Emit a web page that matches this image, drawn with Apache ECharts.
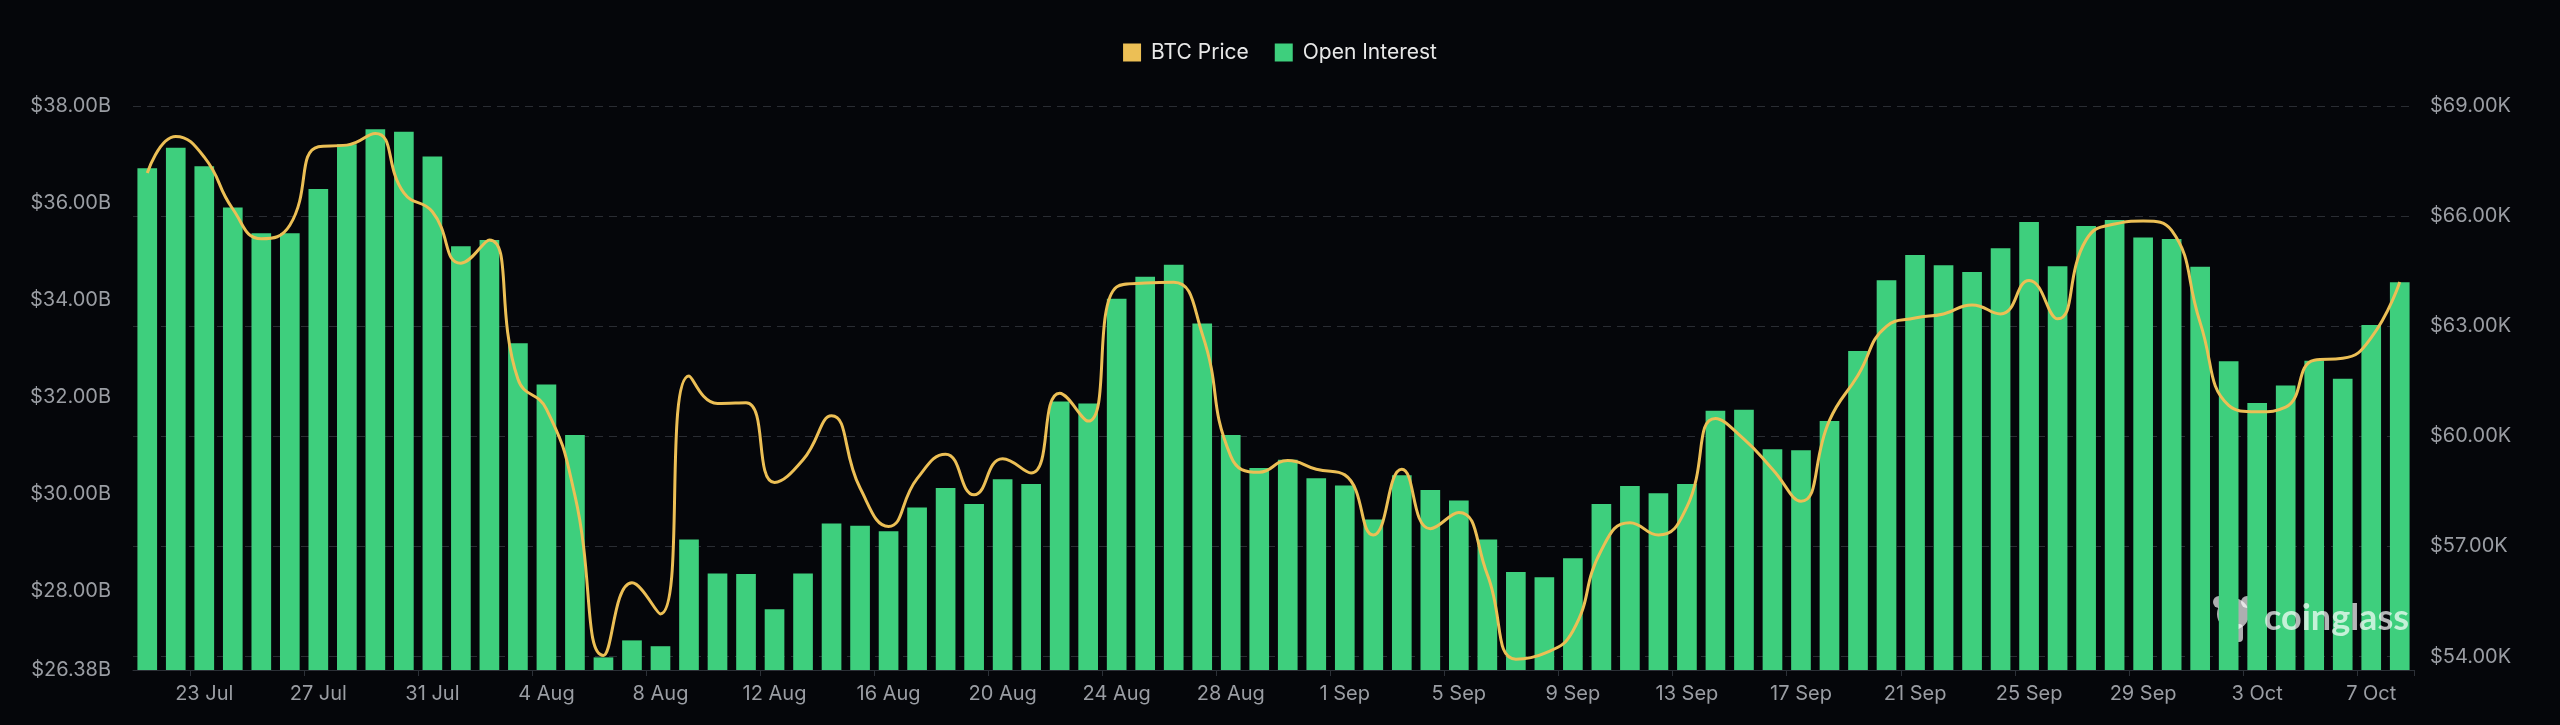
<!DOCTYPE html>
<html>
<head>
<meta charset="utf-8">
<script src="https://cdn.jsdelivr.net/npm/echarts@6/dist/echarts.min.js"></script>
<style>
html,body{margin:0;padding:0;background:#05060a;}
#chart{width:2560px;height:725px;}
</style>
</head>
<body>
<div id="chart"></div>
<script>
const categories = [
  '21 Jul','22 Jul','23 Jul','24 Jul','25 Jul','26 Jul','27 Jul','28 Jul','29 Jul','30 Jul','31 Jul',
  '1 Aug','2 Aug','3 Aug','4 Aug','5 Aug','6 Aug','7 Aug','8 Aug','9 Aug','10 Aug','11 Aug','12 Aug','13 Aug','14 Aug','15 Aug','16 Aug','17 Aug','18 Aug','19 Aug','20 Aug','21 Aug','22 Aug','23 Aug','24 Aug','25 Aug','26 Aug','27 Aug','28 Aug','29 Aug','30 Aug','31 Aug',
  '1 Sep','2 Sep','3 Sep','4 Sep','5 Sep','6 Sep','7 Sep','8 Sep','9 Sep','10 Sep','11 Sep','12 Sep','13 Sep','14 Sep','15 Sep','16 Sep','17 Sep','18 Sep','19 Sep','20 Sep','21 Sep','22 Sep','23 Sep','24 Sep','25 Sep','26 Sep','27 Sep','28 Sep','29 Sep','30 Sep',
  '1 Oct','2 Oct','3 Oct','4 Oct','5 Oct','6 Oct','7 Oct','8 Oct'
];
// Open Interest, billions USD
const openInterest = [
  36.72,37.14,36.76,35.91,35.38,35.38,36.29,37.21,37.52,37.47,36.96,
  35.11,35.24,33.11,32.26,31.22,26.64,26.99,26.87,29.07,28.37,28.36,27.63,
  28.37,29.40,29.35,29.24,29.73,30.13,29.80,30.31,30.21,31.91,31.87,
  34.03,34.48,34.73,33.52,31.22,30.54,30.71,30.33,30.18,29.48,30.39,
  30.09,29.87,29.07,28.40,28.29,28.68,29.80,30.17,30.02,30.21,31.72,31.74,
  30.93,30.91,31.51,32.95,34.41,34.93,34.72,34.58,35.07,35.61,34.70,
  35.53,35.65,35.29,35.26,34.69,32.74,31.88,32.24,32.75,32.38,33.49,34.37
];
// BTC Price, USD
const btcPrice = [
  67176,68170,67607,66193,65383,65750,67890,67934,68252,66630,66120,
  64717,65352,61560,60742,58385,54030,56008,55158,61643,60895,60915,58744,
  59359,60557,58590,57545,58846,59512,58406,59389,59000,61172,60414,
  64072,64174,64195,62791,59461,59020,59338,59102,58949,57310,59102,
  57483,57925,56233,53928,54082,54697,56899,57647,57310,58078,60486,59922,
  59102,58231,60434,61664,62996,63221,63334,63580,63334,64246,63201,
  65352,65783,65865,65609,63098,60844,60670,60793,62074,62125,62688,64205
];
const oiAxis = { min: 26.38, max: 38 };
const priceAxis = { min: 53632, max: 69000 };

const chart = echarts.init(document.getElementById('chart'), null, { renderer: 'canvas' });
const labelColor = '#9a9da3';
const fontFamily = 'Inter, "Noto Sans", sans-serif';
const showEvery = (i) => i % 4 === 2;

chart.setOption({
  backgroundColor: '#05060a',
  animation: false,
  legend: {
    data: ['BTC Price', 'Open Interest'],
    top: 37,
    left: 'center',
    icon: 'rect',
    itemWidth: 18,
    itemHeight: 18,
    itemGap: 26,
    textStyle: { color: '#e8e8e8', fontSize: 21, fontFamily: fontFamily, padding: [0, 0, 0, 5] }
  },
  grid: { left: 133, right: 146, top: 106, bottom: 55 },
  xAxis: {
    type: 'category',
    data: categories,
    boundaryGap: true,
    axisLine: { lineStyle: { color: '#2c3037', width: 1 } },
    axisTick: { show: true, interval: (i) => showEvery(i), length: 6, lineStyle: { color: '#2c3037' } },
    axisLabel: { interval: (i) => showEvery(i), color: labelColor, fontSize: 20, fontFamily: fontFamily, margin: 14 },
    splitLine: { show: false }
  },
  yAxis: [
    {
      type: 'value',
      position: 'left',
      min: oiAxis.min,
      max: oiAxis.max,
      axisLine: { show: false },
      axisTick: { show: false },
      splitLine: { show: false },
      axisLabel: {
        color: labelColor, fontSize: 20, fontFamily: fontFamily, margin: 22,
        formatter: (v) => '$' + v.toFixed(2) + 'B'
      }
    },
    {
      type: 'value',
      position: 'right',
      min: priceAxis.min,
      max: priceAxis.max,
      axisLine: { show: false },
      axisTick: { show: false },
      splitLine: { show: true, lineStyle: { color: '#2a2d33', type: [8, 6], width: 1 } },
      axisLabel: {
        color: labelColor, fontSize: 20, fontFamily: fontFamily, margin: 16,
        showMinLabel: false,
        formatter: (v) => '$' + (v / 1000).toFixed(2) + 'K'
      }
    }
  ],
  series: [
    {
      name: 'Open Interest',
      type: 'bar',
      yAxisIndex: 0,
      data: openInterest,
      barWidth: '69%',
      itemStyle: { color: '#3ecf7d' },
      z: 2
    },
    {
      name: 'BTC Price',
      type: 'line',
      yAxisIndex: 1,
      data: btcPrice,
      smooth: true,
      symbol: 'none',
      lineStyle: { color: '#ecbf55', width: 3 },
      itemStyle: { color: '#ecbf55' },
      z: 5
    }
  ],
  graphic: [
    {
      type: 'group',
      left: 2213,
      top: 596,
      z: 10,
      children: [
        { type: 'circle', shape: { cx: 20, cy: 20, r: 16 }, style: { fill: 'rgba(255,255,255,0.68)' } },
        { type: 'circle', shape: { cx: 6, cy: 8, r: 6 }, style: { fill: 'rgba(255,255,255,0.68)' } },
        { type: 'circle', shape: { cx: 34, cy: 8, r: 6 }, style: { fill: 'rgba(255,255,255,0.68)' } },
        { type: 'rect', shape: { x: 10, y: 30, width: 20, height: 18, r: 4 }, style: { fill: 'rgba(255,255,255,0.68)' } }
      ]
    },
    {
      type: 'text',
      left: 2264,
      top: 600,
      z: 10,
      style: { text: 'coinglass', fill: 'rgba(255,255,255,0.7)', font: 'bold 36px Lato, Inter, sans-serif' }
    }
  ]
});
</script>
</body>
</html>
